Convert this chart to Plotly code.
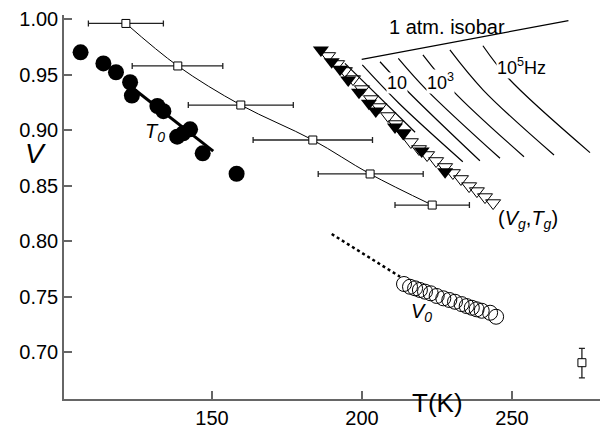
import plotly.graph_objects as go

FONT = "Liberation Sans, Arial, sans-serif"

# Black circles (T0 data)
t0_T = [106.2, 113.8, 118.0, 122.7, 123.3, 131.8, 133.8, 138.4, 140.4, 142.7, 146.9, 158.2]
t0_V = [0.970, 0.960, 0.952, 0.943, 0.931, 0.9216, 0.917, 0.894, 0.897, 0.9006, 0.879, 0.8606]
t0fit_T = [122.7, 150.4]
t0fit_V = [0.9396, 0.881]

# Open squares with horizontal error bars
sq_T = [121.3, 138.6, 159.6, 183.6, 202.7, 223.4]
sq_V = [0.996, 0.9577, 0.9225, 0.891, 0.8604, 0.8324]
sq_errp = [12.5, 15.0, 17.5, 19.9, 17.7, 12.4]
sq_errm = [12.5, 15.2, 17.5, 19.9, 17.3, 12.4]

# Lone square with vertical error bar
lone_T = [273.3]
lone_V = [0.6904]
lone_errp = [0.0129]
lone_errm = [0.0136]

# Filled triangles
ft_T = [186.3, 189.9, 192.7, 195.4, 199.0, 202.3, 204.6, 211.0, 213.8, 219.9, 227.7]
ft_V = [0.9721, 0.9615, 0.9547, 0.9450, 0.9340, 0.9241, 0.9171, 0.9027, 0.8968, 0.8811, 0.8624]

# Open triangles (Vg, Tg)
ot_T = [188.7, 191.7, 194.3, 197.0, 200.0, 203.0, 205.7, 208.7, 211.3, 213.7, 216.3,
        219.0, 221.7, 224.7, 227.7, 230.3, 233.0, 235.7, 238.3, 241.0, 243.7]
ot_V = [0.9667, 0.9595, 0.9532, 0.9459, 0.9369, 0.9279, 0.9207, 0.9126, 0.9054, 0.8973, 0.8892,
        0.8829, 0.8775, 0.8721, 0.8667, 0.8613, 0.8559, 0.8495, 0.8450, 0.8396, 0.8342]

# Open circles (V0)
oc_T = [214.0, 216.0, 217.7, 219.3, 221.0, 222.9, 224.9, 227.1, 229.1, 231.0, 233.2,
        234.9, 236.6, 238.2, 239.9, 242.7, 244.7]
oc_V = [0.7613, 0.7588, 0.7574, 0.7559, 0.7544, 0.7529, 0.7505, 0.7484, 0.7469, 0.7453, 0.7432,
        0.7414, 0.7399, 0.7385, 0.7372, 0.7354, 0.7318]

# Dotted extrapolation
dot_T = [189.9, 212.7]
dot_V = [0.8063, 0.7678]

# Line along triangles
la_T = [194.3, 217.7]
la_V = [0.960, 0.898]

# 1 atm isobar
iso_T = [199.9, 268.8]
iso_V = [0.9637, 0.9985]

# Isochrones
isochrones = [
    ([200.1, 212.3, 233.6], [0.9586, 0.9241, 0.8714]),
    ([206.0, 215.4, 239.3], [0.9615, 0.9345, 0.8723]),
    ([212.1, 221.6, 246.0], [0.9646, 0.9360, 0.8745]),
    ([220.3, 230.4, 254.0], [0.9676, 0.9351, 0.8759]),
    ([229.3, 240.4, 264.0], [0.9721, 0.9360, 0.8775]),
    ([240.3, 248.8, 276.0], [0.9759, 0.9466, 0.8796]),
]

fig = go.Figure()

for T, V in isochrones:
    fig.add_trace(go.Scatter(x=T, y=V, mode="lines", line=dict(color="black", width=1.2, shape="spline"),
                             hoverinfo="skip"))
fig.add_trace(go.Scatter(x=iso_T, y=iso_V, mode="lines", line=dict(color="black", width=1.2)))
fig.add_trace(go.Scatter(x=la_T, y=la_V, mode="lines", line=dict(color="black", width=1.2)))
fig.add_trace(go.Scatter(x=dot_T, y=dot_V, mode="lines", line=dict(color="black", width=2.5, dash="dot")))

fig.add_trace(go.Scatter(x=sq_T, y=sq_V, mode="lines+markers",
                         line=dict(color="black", width=1, shape="spline"),
                         marker=dict(symbol="square", size=8, color="white", line=dict(color="black", width=1)),
                         error_x=dict(type="data", symmetric=False, array=sq_errp, arrayminus=sq_errm,
                                      color="#222", thickness=1.3, width=3)))
fig.add_trace(go.Scatter(x=lone_T, y=lone_V, mode="markers",
                         marker=dict(symbol="square", size=8, color="white", line=dict(color="black", width=1)),
                         error_y=dict(type="data", symmetric=False, array=lone_errp, arrayminus=lone_errm,
                                      color="#222", thickness=1.3, width=3)))

fig.add_trace(go.Scatter(x=t0_T, y=t0_V, mode="markers", marker=dict(symbol="circle", size=16, color="black")))
fig.add_trace(go.Scatter(x=t0fit_T, y=t0fit_V, mode="lines", line=dict(color="black", width=3)))

fig.add_trace(go.Scatter(x=ot_T, y=ot_V, mode="markers",
                         marker=dict(symbol="triangle-down-open", size=13, color="black", line=dict(width=1))))
fig.add_trace(go.Scatter(x=ft_T, y=ft_V, mode="markers",
                         marker=dict(symbol="triangle-down", size=14, color="black")))
fig.add_trace(go.Scatter(x=oc_T, y=oc_V, mode="markers",
                         marker=dict(symbol="circle-open", size=15, color="black", line=dict(width=1))))

ann = []
def A(text, x, y, size, **kw):
    d = dict(text=text, x=x, y=y, xref="x", yref="y", showarrow=False,
             font=dict(family=FONT, size=size, color="black"))
    d.update(kw)
    ann.append(d)

A("1 atm. isobar", 228.2, 0.9925, 20)
A("10", 211.7, 0.9423, 18, bgcolor="white", borderpad=0)
A("10<sup>3</sup>", 226.3, 0.9440, 18, bgcolor="white", borderpad=0)
A("10<sup>5</sup>Hz", 253.2, 0.9575, 18, bgcolor="white", borderpad=0)
A("<i>T<sub>0</sub></i>", 131.0, 0.898, 20)
A("<i>V<sub>0</sub></i>", 219.7, 0.736, 20)
A("(<i>V<sub>g</sub></i>,<i>T<sub>g</sub></i>)", 255.2, 0.819, 20)
ann.append(dict(text="<i>V</i>", x=-0.077, y=0.8784, xref="paper", yref="y", showarrow=False,
                font=dict(family=FONT, size=28, color="black")))
ann.append(dict(text="T(K)", x=225.3, y=-0.055, xref="x", yref="paper", showarrow=False,
                font=dict(family=FONT, size=26, color="black")))

axis_common = dict(showgrid=False, zeroline=False, showline=True, linecolor="#666", linewidth=1.5,
                   ticks="inside", ticklen=8, tickwidth=1.5, tickcolor="#666",
                   tickfont=dict(family=FONT, size=20, color="black"))

fig.update_layout(
    width=600, height=433,
    margin=dict(l=64, r=0, t=15, b=34),
    plot_bgcolor="white", paper_bgcolor="white",
    showlegend=False,
    annotations=ann,
    xaxis=dict(range=[100.67, 279.33], tickvals=[150, 200, 250], **axis_common),
    yaxis=dict(range=[0.6577, 1.0036], tickvals=[0.70, 0.75, 0.80, 0.85, 0.90, 0.95, 1.00],
               tickformat=".2f", **axis_common),
)

fig.write_html("out.html", config={"displayModeBar": False},
               post_script="document.body.style.margin='0px';document.body.style.overflow='hidden';")
